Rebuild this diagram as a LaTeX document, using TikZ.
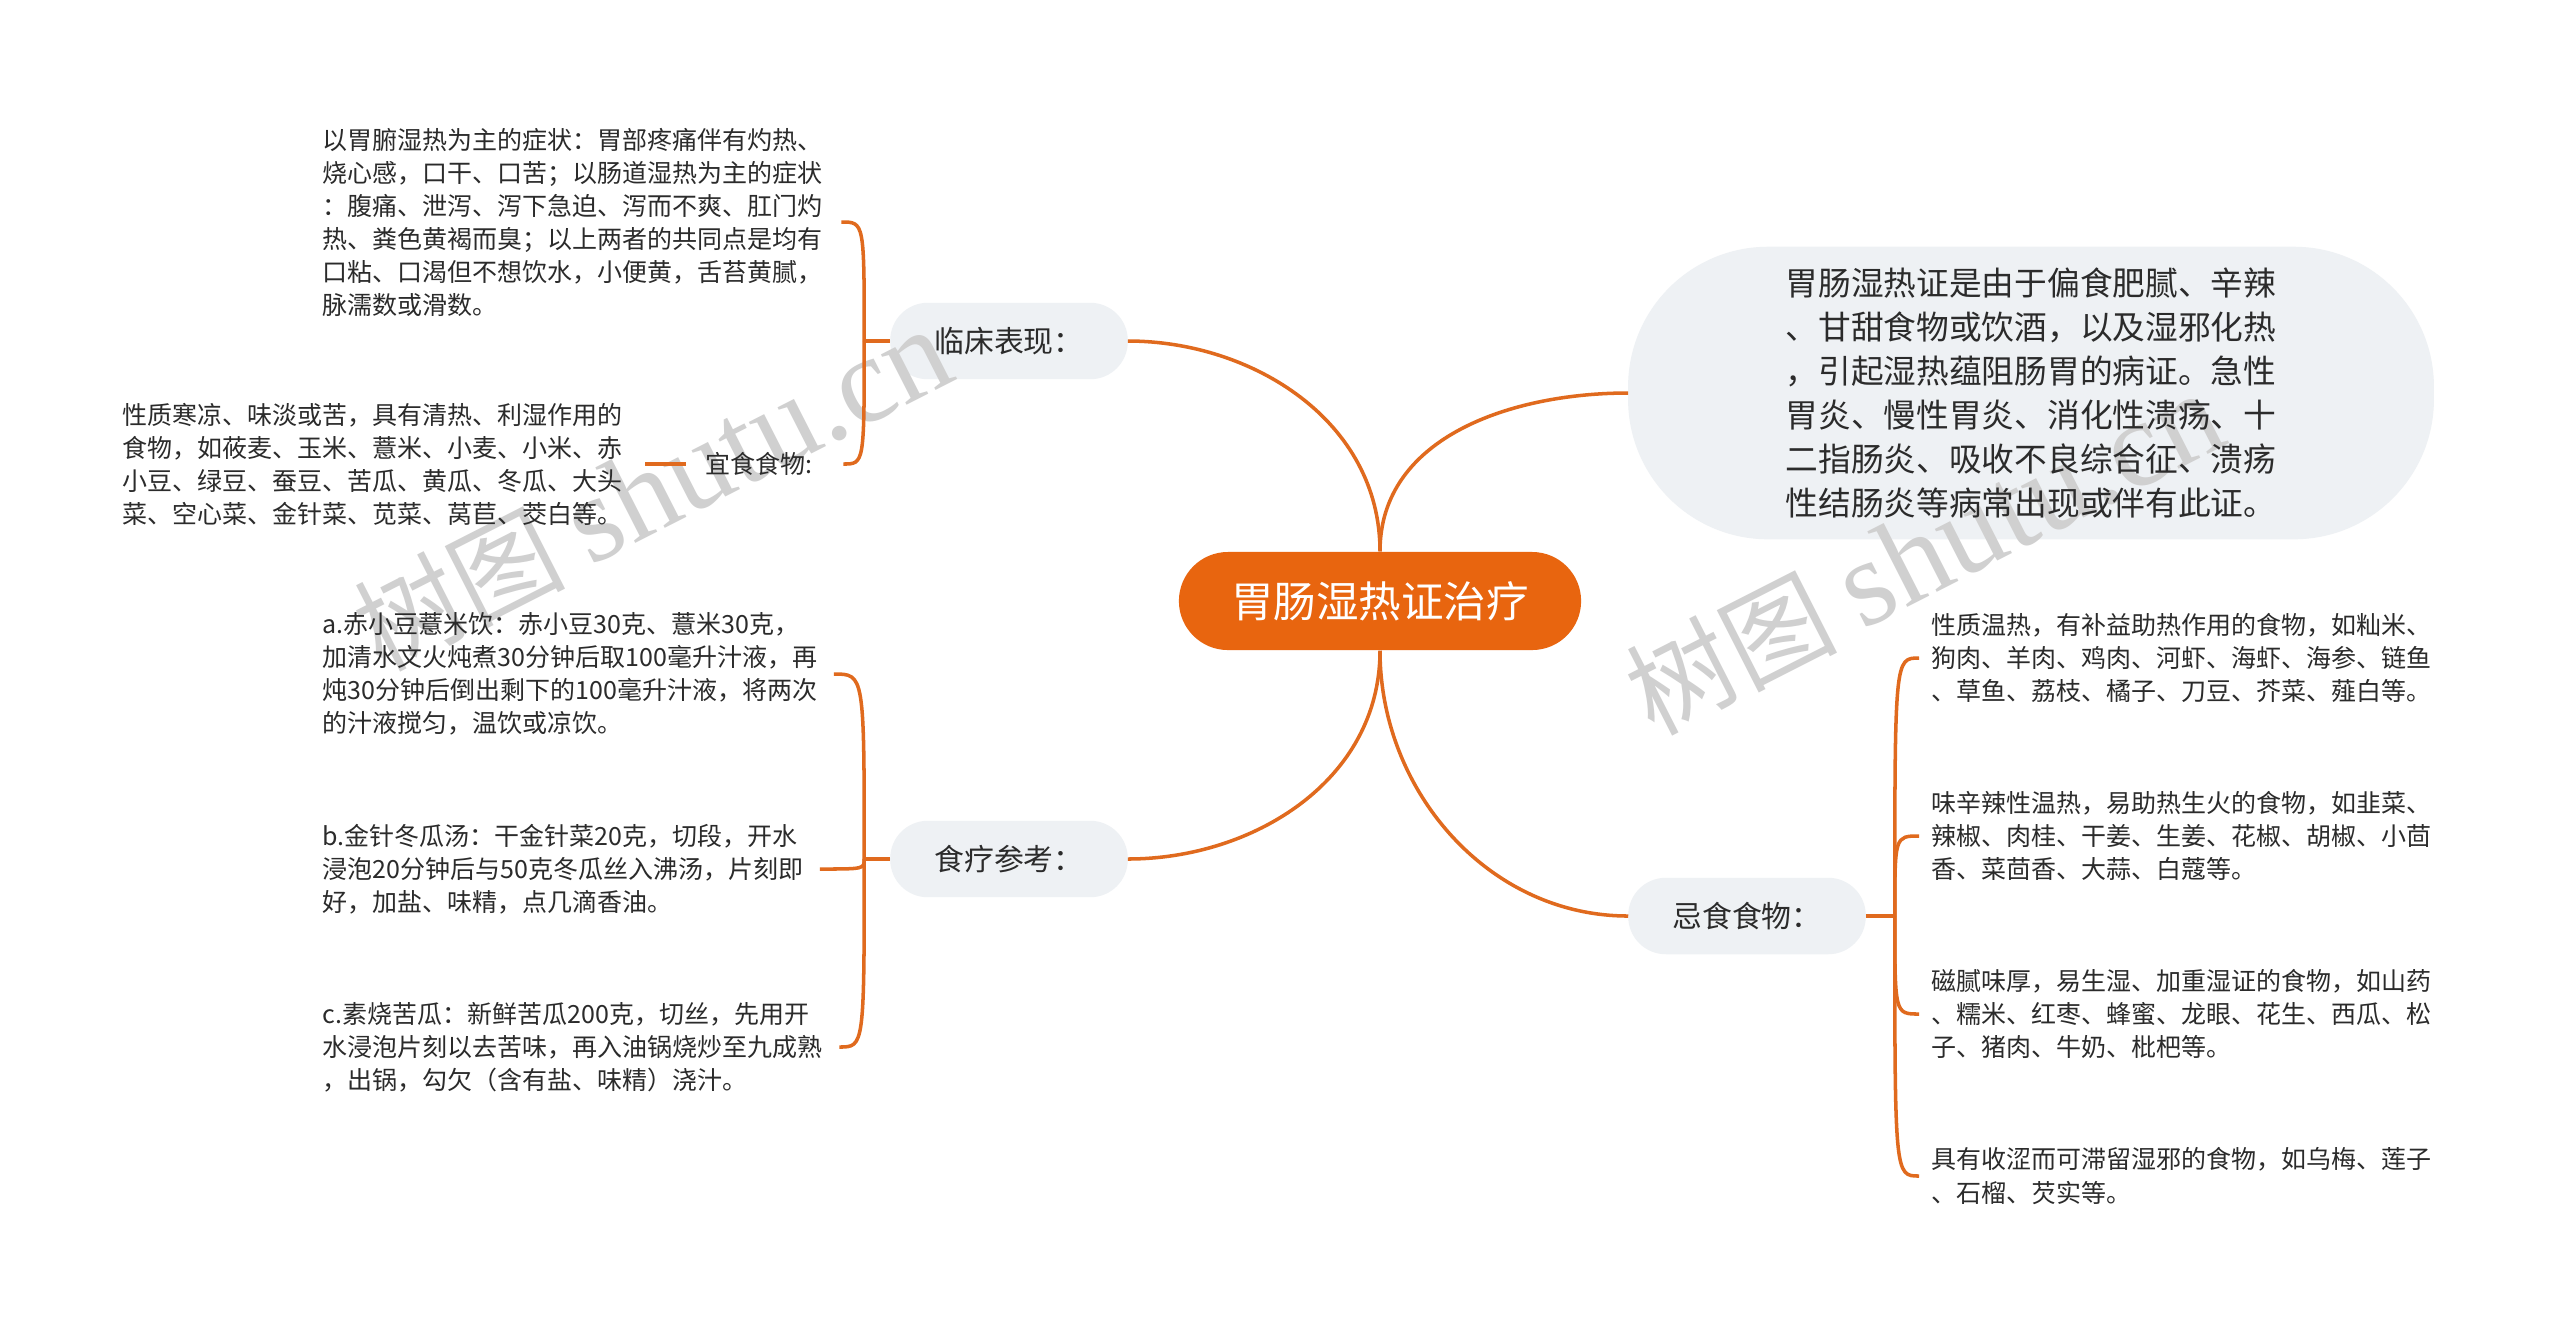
\documentclass[tikz,border=0pt]{standalone}
\usepackage{fontspec}
\setmainfont{Noto Sans CJK SC}
\newfontfamily\wmlatin{Liberation Serif}
\usetikzlibrary{calc}
\pgfdeclarelayer{bg}
\pgfdeclarelayer{wm}
\pgfsetlayers{bg,wm,main}
\definecolor{orangeA}{HTML}{E8650F}
\definecolor{lineC}{HTML}{E06A1E}
\definecolor{grayBox}{HTML}{EEF1F4}
\definecolor{txt}{HTML}{2B2B2B}
\definecolor{wmgray}{HTML}{D0D0D0}
\tikzset{
  link/.style={draw=lineC, line width=1pt},
  rootbox/.style={fill=orangeA, rounded corners=0.49cm, minimum width=4.02cm, minimum height=0.98cm, text=white, font=\fontsize{12.1pt}{14pt}\selectfont, inner sep=0},
  branchbox/.style={minimum width=2.36cm, minimum height=0.75cm, text=txt, font=\fontsize{8.5pt}{10pt}\selectfont, inner sep=0},
  branchfill/.style={fill=grayBox, rounded corners=0.375cm},
  bigbox/.style={minimum width=8.04cm, minimum height=2.91cm, text=txt, align=left, font=\fontsize{9.3pt}{12.46pt}\selectfont, inner sep=0},
  bigfill/.style={fill=grayBox, rounded corners=1.4cm},
  leaf/.style={align=left, inner sep=0, text=txt, font=\fontsize{7.11pt}{9.39pt}\selectfont, anchor=west},
  wmark/.style={rotate=27, text=wmgray, font=\fontsize{30pt}{34pt}\selectfont},
}
\begin{document}
\begin{tikzpicture}[x=0.01cm, y=-0.01cm]
\useasboundingbox (0,0) rectangle (2560,1329);
\begin{pgfonlayer}{bg}
\fill[white] (0,0) rectangle (2560,1329);
\end{pgfonlayer}

% main nodes
\node[rootbox] (root) at (1380,601) {胃肠湿热证治疗};
\node[branchbox] (lc) at (1009,341) {临床表现：};
\node[branchbox] (sl) at (1009,859) {食疗参考：};
\node[branchbox] (js) at (1747,916) {忌食食物：};
\node[bigbox] (intro) at (2031,393) {胃肠湿热证是由于偏食肥腻、辛辣\\、甘甜食物或饮酒，以及湿邪化热\\，引起湿热蕴阻肠胃的病证。急性\\胃炎、慢性胃炎、消化性溃疡、十\\二指肠炎、吸收不良综合征、溃疡\\性结肠炎等病常出现或伴有此证。};

\begin{pgfonlayer}{bg}
\fill[branchfill] (lc.south west) rectangle (lc.north east);
\fill[branchfill] (sl.south west) rectangle (sl.north east);
\fill[branchfill] (js.south west) rectangle (js.north east);
\fill[bigfill] (intro.south west) rectangle (intro.north east);
\end{pgfonlayer}

% leaves left
\node[leaf] (l1) at (322,222) {以胃腑湿热为主的症状：胃部疼痛伴有灼热、\\烧心感，口干、口苦；以肠道湿热为主的症状\\：腹痛、泄泻、泻下急迫、泻而不爽、肛门灼\\热、粪色黄褐而臭；以上两者的共同点是均有\\口粘、口渴但不想饮水，小便黄，舌苔黄腻，\\脉濡数或滑数。};
\node[leaf] (ys) at (705,464) {宜食食物:};
\node[leaf] (l2) at (122,464) {性质寒凉、味淡或苦，具有清热、利湿作用的\\食物，如莜麦、玉米、薏米、小麦、小米、赤\\小豆、绿豆、蚕豆、苦瓜、黄瓜、冬瓜、大头\\菜、空心菜、金针菜、苋菜、莴苣、茭白等。};
\node[leaf] (l3) at (322,674) {a.赤小豆薏米饮：赤小豆30克、薏米30克，\\加清水文火炖煮30分钟后取100毫升汁液，再\\炖30分钟后倒出剩下的100毫升汁液，将两次\\的汁液搅匀，温饮或凉饮。};
\node[leaf] (l4) at (322,869) {b.金针冬瓜汤：干金针菜20克，切段，开水\\浸泡20分钟后与50克冬瓜丝入沸汤，片刻即\\好，加盐、味精，点几滴香油。};
\node[leaf] (l5) at (322,1047) {c.素烧苦瓜：新鲜苦瓜200克，切丝，先用开\\水浸泡片刻以去苦味，再入油锅烧炒至九成熟\\，出锅，勾欠（含有盐、味精）浇汁。};

% leaves right
\node[leaf] (r1) at (1931,658) {性质温热，有补益助热作用的食物，如籼米、\\狗肉、羊肉、鸡肉、河虾、海虾、海参、链鱼\\、草鱼、荔枝、橘子、刀豆、芥菜、薤白等。};
\node[leaf] (r2) at (1931,836) {味辛辣性温热，易助热生火的食物，如韭菜、\\辣椒、肉桂、干姜、生姜、花椒、胡椒、小茴\\香、菜茴香、大蒜、白蔻等。};
\node[leaf] (r3) at (1931,1014) {磁腻味厚，易生湿、加重湿证的食物，如山药\\、糯米、红枣、蜂蜜、龙眼、花生、西瓜、松\\子、猪肉、牛奶、枇杷等。};
\node[leaf] (r4) at (1931,1176) {具有收涩而可滞留湿邪的食物，如乌梅、莲子\\、石榴、芡实等。};

% root connectors
\draw[link] (root.north) .. controls +(0,-130) and +(125,0) .. (lc.east);
\draw[link] (root.north) .. controls +(0,-115) and +(-115,0) .. (intro.west);
\draw[link] (root.south) .. controls +(0,130) and +(125,0) .. (sl.east);
\draw[link] (root.south) .. controls +(0,140) and +(-140,0) .. (js.west);

% left bracket 1
\coordinate (jl1) at ($(lc.west)+(-26,0)$);
\coordinate (e1) at ($(l1.east)+(18,0)$);
\coordinate (eys) at ($(ys.east)+(30,0)$);
\draw[link] (lc.west) -- (jl1);
\draw[link] (jl1) .. controls (jl1 |- e1) .. (e1);
\draw[link] (jl1) .. controls (jl1 |- eys) .. (eys);
\draw[link] ($(l2.east)+(22,0)$) -- ($(ys.west)+(-19,0)$);

% left bracket 2
\coordinate (jl2) at ($(sl.west)+(-26,0)$);
\coordinate (e3) at ($(l3.east)+(16,0)$);
\coordinate (e4) at ($(l4.east)+(16,0)$);
\coordinate (e5) at ($(l5.east)+(16,0)$);
\draw[link] (sl.west) -- (jl2);
\draw[link] (jl2) .. controls (jl2 |- e3) .. (e3);
\draw[link] (jl2) .. controls (jl2 |- e4) .. (e4);
\draw[link] (jl2) .. controls (jl2 |- e5) .. (e5);

% right bracket
\coordinate (jr) at ($(js.east)+(29,0)$);
\coordinate (f1) at ($(r1.west)+(-12,0)$);
\coordinate (f2) at ($(r2.west)+(-12,0)$);
\coordinate (f3) at ($(r3.west)+(-12,0)$);
\coordinate (f4) at ($(r4.west)+(-12,0)$);
\draw[link] (js.east) -- (jr);
\draw[link] (jr) .. controls (jr |- f1) .. (f1);
\draw[link] (jr) .. controls (jr |- f2) .. (f2);
\draw[link] (jr) .. controls (jr |- f3) .. (f3);
\draw[link] (jr) .. controls (jr |- f4) .. (f4);

% watermarks (beneath texts and connectors)
\begin{pgfonlayer}{wm}
\node[wmark] (wm1) at (652,490) {树图 {\wmlatin\fontsize{35pt}{38pt}\selectfont shutu.cn}};
\node[wmark] (wm2) at (1924,554) {树图 {\wmlatin\fontsize{35pt}{38pt}\selectfont shutu.cn}};
\end{pgfonlayer}
\end{tikzpicture}
\end{document}
